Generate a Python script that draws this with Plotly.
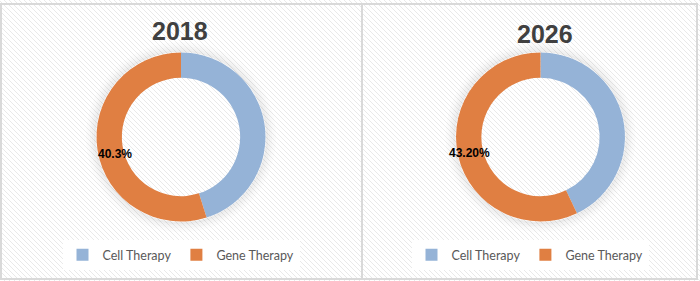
import plotly.graph_objects as go

W, H = 700, 281

# ---- data ----
labels = ["Cell Therapy", "Gene Therapy"]
years = ["2018", "2026"]
values_2018 = [45.1, 54.9]
values_2026 = [42.9, 57.1]
label_texts = ["40.3%", "43.20%"]
colors = ["#95b3d7", "#e07f42"]

# ---- layout helpers (pixels) ----
centers = [(181, 137), (540.5, 137)]
radius = 84.5
title_pos = [(180, 31), (545, 34)]
label_pos = [(115, 154), (470, 153)]
legend_pos = [(181, 255), (530, 255)]


def px(x):
    return x / W


def py(y):
    return (H - y) / H


fig = go.Figure()

for i, vals in enumerate([values_2018, values_2026]):
    cx, cy = centers[i]
    # zero-width suffix keeps the second chart's legend entries distinct
    lab = labels if i == 0 else [l + "\u200b" for l in labels]
    fig.add_trace(go.Pie(
        labels=lab,
        values=vals,
        hole=0.70,
        sort=False,
        direction="clockwise",
        rotation=0,
        marker=dict(colors=colors, line=dict(width=0)),
        textinfo="none",
        hoverinfo="label+value",
        domain=dict(x=[px(cx - radius), px(cx + radius)],
                    y=[py(cy + radius), py(cy - radius)]),
        legend="legend" if i == 0 else "legend2",
        showlegend=True,
    ))

shapes = []
# hatched background
segs = []
for p in range(-H, W + 5, 5):
    segs.append(f"M{px(p)},{py(0)} L{px(p + H)},{py(H)}")
shapes.append(dict(type="path", path=" ".join(segs), xref="paper", yref="paper",
                   line=dict(color="#e9e9e9", width=1), layer="below"))
# soft shadow around donuts
for (cx, cy) in centers:
    for k, a in enumerate([0.07, 0.05, 0.035, 0.02, 0.01]):
        r = radius + 1.5 + 2 * k
        shapes.append(dict(type="circle", xref="paper", yref="paper",
                           x0=px(cx - r), x1=px(cx + r), y0=py(cy + r), y1=py(cy - r),
                           line=dict(color=f"rgba(0,0,0,{a})", width=2.2), layer="below"))
# frame
shapes.append(dict(type="rect", xref="paper", yref="paper",
                   x0=px(1), x1=px(697), y0=py(279), y1=py(4),
                   line=dict(color="#d9d9d9", width=2)))
shapes.append(dict(type="line", xref="paper", yref="paper",
                   x0=px(362), x1=px(362), y0=py(279), y1=py(4),
                   line=dict(color="#d9d9d9", width=2)))

annotations = []
for i, yr in enumerate(years):
    tx, ty = title_pos[i]
    annotations.append(dict(text=f"<b>{yr}</b>", x=px(tx), y=py(ty), xref="paper", yref="paper",
                            showarrow=False, xanchor="center", yanchor="middle",
                            font=dict(family="Liberation Sans, Arial", size=25, color="#404040")))
    lx, ly = label_pos[i]
    annotations.append(dict(text=f"<b>{label_texts[i]}</b>", x=px(lx), y=py(ly), xref="paper", yref="paper",
                            showarrow=False, xanchor="center", yanchor="middle",
                            font=dict(family="Liberation Sans, Arial", size=12, color="#000000")))

legend_common = dict(orientation="h", xanchor="center", yanchor="middle",
                     bgcolor="#ffffff", borderwidth=0, itemwidth=30,
                     font=dict(family="Lato, Open Sans", size=12.5, color="#595959"),
                     itemclick=False, itemdoubleclick=False)

fig.update_layout(
    width=W, height=H,
    margin=dict(l=0, r=0, t=0, b=0),
    paper_bgcolor="#ffffff",
    plot_bgcolor="#ffffff",
    shapes=shapes,
    annotations=annotations,
    legend=dict(x=px(legend_pos[0][0]), y=py(legend_pos[0][1]), **legend_common),
    legend2=dict(x=px(legend_pos[1][0]), y=py(legend_pos[1][1]), **legend_common),
)

fig.write_html("out.html")
